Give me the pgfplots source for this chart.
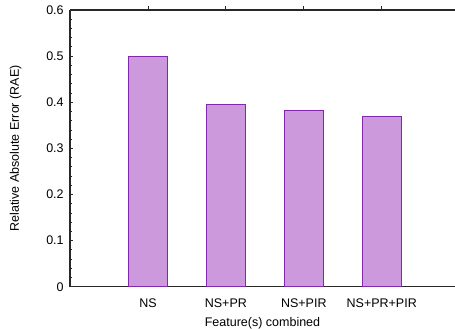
\documentclass[border=0pt]{standalone}
\usepackage{fontspec}
\setmainfont{Liberation Sans}
\usepackage{pgfplots}
\pgfplotsset{compat=1.18}
\definecolor{barfill}{RGB}{204,153,221}
\definecolor{baredge}{RGB}{130,40,175}
\definecolor{axisgray}{RGB}{40,40,40}
\begin{document}
\fontsize{12.5}{15}\selectfont
\begin{tikzpicture}
\begin{axis}[
  scale only axis,
  width=385pt, height=276.7pt,
  xmin=0, xmax=4.94,
  ymin=0, ymax=0.6,
  axis x line*=box,
  axis y line*=left,
  axis line style={axisgray, line width=1.3pt},
  xtick={1,2,3,4},
  xticklabels={NS, NS+PR, NS+PIR, NS+PR+PIR},
  xtick pos=right,
  xticklabel pos=left,
  ytick={0,0.1,0.2,0.3,0.4,0.5,0.6},
  minor y tick num=4,
  tick align=inside,
  major tick length=3.5pt,
  minor tick length=2pt,
  tick style={axisgray, line width=0.8pt},
  /pgf/number format/assume math mode=true,
  /pgf/number format/fixed,
  ticklabel style={font=\fontsize{12.5}{15}\selectfont},
  yticklabel style={xshift=-2pt},
  xticklabel style={yshift=-4pt},
  xlabel={Feature(s) combined},
  ylabel={Relative Absolute Error (RAE)},
  label style={font=\fontsize{12.5}{15}\selectfont},
  xlabel style={yshift=-1.5pt},
  ylabel style={at={(axis description cs:-0.141,0.5)}, anchor=center},
  ybar,
  bar width=0.5,
]
% RAE for each combination of features
\addplot[fill=barfill, draw=baredge, line width=1pt] coordinates {
  (1,0.500) (2,0.396) (3,0.382) (4,0.368)
};
\end{axis}
\pgfresetboundingbox
\path[use as bounding box] ([xshift=-70pt,yshift=-42.3pt]current axis.south west) rectangle ([yshift=10pt]current axis.north east);
\end{tikzpicture}
\end{document}
